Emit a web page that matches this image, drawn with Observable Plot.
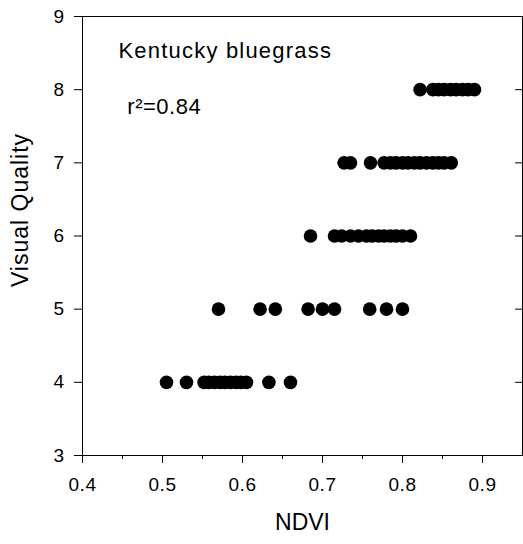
<!DOCTYPE html>
<html>
<head>
<meta charset="utf-8">
<script src="https://cdn.jsdelivr.net/npm/d3@7"></script>
<script src="https://cdn.jsdelivr.net/npm/@observablehq/plot@0.6"></script>
<style>
  html, body { margin: 0; padding: 0; background: #fff; }
  #chart svg { display: block; }
</style>
</head>
<body>
<div id="chart"></div>
<script>
const q4 = [0.505, 0.53, 0.552, 0.558, 0.565, 0.572, 0.578, 0.585, 0.592, 0.598, 0.605, 0.633, 0.66];
const q5 = [0.57, 0.622, 0.641, 0.682, 0.70, 0.715, 0.759, 0.78, 0.80];
const q6 = [0.685, 0.715, 0.724, 0.735, 0.745, 0.755, 0.762, 0.77, 0.777, 0.785, 0.792, 0.80, 0.81];
const q7 = [0.727, 0.735, 0.76, 0.777, 0.785, 0.792, 0.80, 0.807, 0.815, 0.822, 0.83, 0.838, 0.845, 0.852, 0.861];
const q8 = [0.822, 0.838, 0.845, 0.852, 0.86, 0.867, 0.875, 0.882, 0.89];
const qualityLevels = [4, 5, 6, 7, 8];
const xTicks = [0.4, 0.5, 0.6, 0.7, 0.8, 0.9];
const xMinorTicks = [0.45, 0.55, 0.65, 0.75, 0.85];
const yTicks = [3, 4, 5, 6, 7, 8, 9];
const xTitle = ["NDVI"];
const yTitle = ["Visual Quality"];
const titleText = ["Kentucky bluegrass"];
const r2Text = ["r\u00b2=0.84"];

const points = [q4, q5, q6, q7, q8].flatMap((arr, i) => arr.map(v => ({ndvi: v, quality: qualityLevels[i]})));

const font = "'Liberation Sans', Arial, sans-serif";

const chart = Plot.plot({
  width: 523,
  height: 544,
  marginTop: 16,
  marginLeft: 82,
  marginRight: 1,
  marginBottom: 89,
  style: {fontFamily: font, background: "#fff", color: "#000"},
  x: {domain: [0.4, 0.95]},
  y: {domain: [3, 9]},
  marks: [
    Plot.frame({stroke: "#000", strokeWidth: 1}),
    Plot.axisX(xTicks, {anchor: "bottom", tickSize: 8, tickPadding: 14, fontSize: 19, tickFormat: d => d.toFixed(1), label: null}),
    Plot.axisX(xMinorTicks, {anchor: "bottom", tickSize: 4, fill: "none", label: null}),
    Plot.axisY(yTicks, {anchor: "left", tickSize: 8, tickPadding: 10, fontSize: 19, tickFormat: d => String(d), label: null}),
    Plot.axisY(yTicks.slice(1, -1), {anchor: "right", tickSize: -8, fill: "none", label: null}),
    Plot.text(xTitle, {frameAnchor: "bottom", text: d => d, dy: 74, fontSize: 23, fill: "#000"}),
    Plot.text(yTitle, {frameAnchor: "left", textAnchor: "middle", text: d => d, rotate: -90, dx: -62, dy: -26, fontSize: 23, fill: "#000", className: "ytitle"}),
    Plot.dot(points, {x: "ndvi", y: "quality", r: 6.8, fill: "#000", stroke: "none"}),
    Plot.text(titleText, {x: 0.445, y: 8.535, text: d => d, textAnchor: "start", fontSize: 22, fill: "#000", className: "anno1"}),
    Plot.text(r2Text, {x: 0.456, y: 7.77, text: d => d, textAnchor: "start", fontSize: 22, fill: "#000", className: "anno2"})
  ]
});
chart.querySelectorAll(".anno1 text").forEach(t => t.style.letterSpacing = "1.2px");
chart.querySelectorAll(".anno2 text").forEach(t => t.style.letterSpacing = "0.5px");
chart.querySelectorAll(".ytitle text").forEach(t => t.style.letterSpacing = "1px");
chart.querySelectorAll("[aria-label='x-axis tick label'] text, [aria-label='y-axis tick label'] text").forEach(t => t.style.letterSpacing = "0.5px");
document.getElementById("chart").appendChild(chart);
</script>
</body>
</html>
